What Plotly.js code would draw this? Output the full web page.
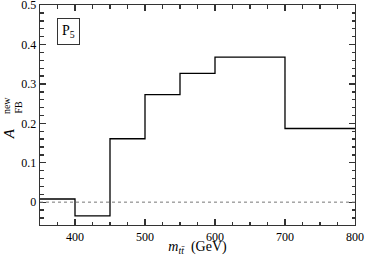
<!DOCTYPE html>
<html>
<head>
<meta charset="utf-8">
<script src="https://cdn.plot.ly/plotly-3.0.1.min.js"></script>
<style>html,body{margin:0;padding:0;background:#fff;}#chart{width:365px;height:256px;}</style>
</head>
<body>
<div id="chart"></div>
<script>
var binEdges = [350, 400, 450, 500, 550, 600, 700, 800];
var afbValues = [0.008, -0.035, 0.161, 0.273, 0.327, 0.368, 0.187];
var xTickVals = [400, 500, 600, 700, 800];
var xTickText = ['400', '500', '600', '700', '800'];
var yTickVals = [0, 0.1, 0.2, 0.3, 0.4, 0.5];
var yTickText = ['0', '0.1', '0.2', '0.3', '0.4', '0.5'];

var stepY = afbValues.concat([afbValues[afbValues.length - 1]]);
var font = {family: 'Liberation Serif, Times New Roman, serif', size: 12, color: '#000'};
var xRange = [350, 800.01];
var yRange = [-0.058, 0.5005];
var axisCommon = {
  showgrid: false, zeroline: false, showline: true, linecolor: '#333', linewidth: 1.3,
  ticks: 'inside', ticklen: 6, tickwidth: 1.3, tickcolor: '#333',
  tickfont: font, ticklabeloverflow: 'allow', mirror: 'allticks'
};
var xMinor = {dtick: 25, tick0: 350, ticks: 'inside', ticklen: 3.5, tickcolor: '#333', tickwidth: 1.3};
var yMinor = {dtick: 0.02, tick0: 0, ticks: 'inside', ticklen: 3.5, tickcolor: '#333', tickwidth: 1.3};

var traces = [{
  x: binEdges, y: stepY, xaxis: 'x2', yaxis: 'y2', type: 'scatter', mode: 'lines',
  line: {shape: 'hv', color: 'rgba(0,0,0,0)', width: 0}, hoverinfo: 'none'
}, {
  x: binEdges, y: stepY, type: 'scatter', mode: 'lines',
  line: {shape: 'hv', color: '#000', width: 1.3}, hoverinfo: 'none'
}];

var layout = {
  width: 365, height: 256,
  margin: {l: 40, r: 10, t: 5, b: 31},
  paper_bgcolor: '#fff', plot_bgcolor: 'rgba(0,0,0,0)',
  showlegend: false, font: font,
  xaxis: Object.assign({}, axisCommon, {
    range: xRange, tickvals: xTickVals, ticktext: xTickText, minor: xMinor,
    title: {text: '<i>m</i><sub><i>tt̄</i></sub>  (GeV)', font: {family: font.family, size: 14, color: '#000'}, standoff: 3}
  }),
  yaxis: Object.assign({}, axisCommon, {
    range: yRange, tickvals: yTickVals, ticktext: yTickText, minor: yMinor
  }),
  xaxis2: Object.assign({}, axisCommon, {
    overlaying: 'x', side: 'top', range: xRange, tickvals: xTickVals, showticklabels: false, minor: xMinor, anchor: 'y2'
  }),
  yaxis2: Object.assign({}, axisCommon, {
    overlaying: 'y', side: 'right', range: yRange, tickvals: yTickVals, showticklabels: false, minor: yMinor, anchor: 'x2'
  }),
  shapes: [{
    type: 'line', xref: 'paper', yref: 'y', x0: 0, x1: 1, y0: 0, y1: 0,
    line: {color: '#777', width: 1, dash: 'dot'}
  }],
  annotations: [
    {text: 'P<sub>5</sub>', xref: 'paper', yref: 'paper', x: 0.089, y: 0.88, xanchor: 'center', yanchor: 'middle', showarrow: false,
     font: {family: font.family, size: 14, color: '#000'}, bordercolor: '#333', borderwidth: 1, borderpad: 4, bgcolor: '#fff'},
    {text: '<i>A</i>', xref: 'paper', yref: 'paper', x: -0.1, y: 0.415, xanchor: 'center', yanchor: 'middle',
     showarrow: false, textangle: -90, font: {family: font.family, size: 15, color: '#000'}},
    {text: 'FB', xref: 'paper', yref: 'paper', x: -0.069, y: 0.535, xanchor: 'center', yanchor: 'middle',
     showarrow: false, textangle: -90, font: {family: font.family, size: 10, color: '#000'}},
    {text: 'new', xref: 'paper', yref: 'paper', x: -0.108, y: 0.545, xanchor: 'center', yanchor: 'middle',
     showarrow: false, textangle: -90, font: {family: font.family, size: 10, color: '#000'}}
  ]
};

Plotly.newPlot('chart', traces, layout, {staticPlot: true, displayModeBar: false});
</script>
</body>
</html>
